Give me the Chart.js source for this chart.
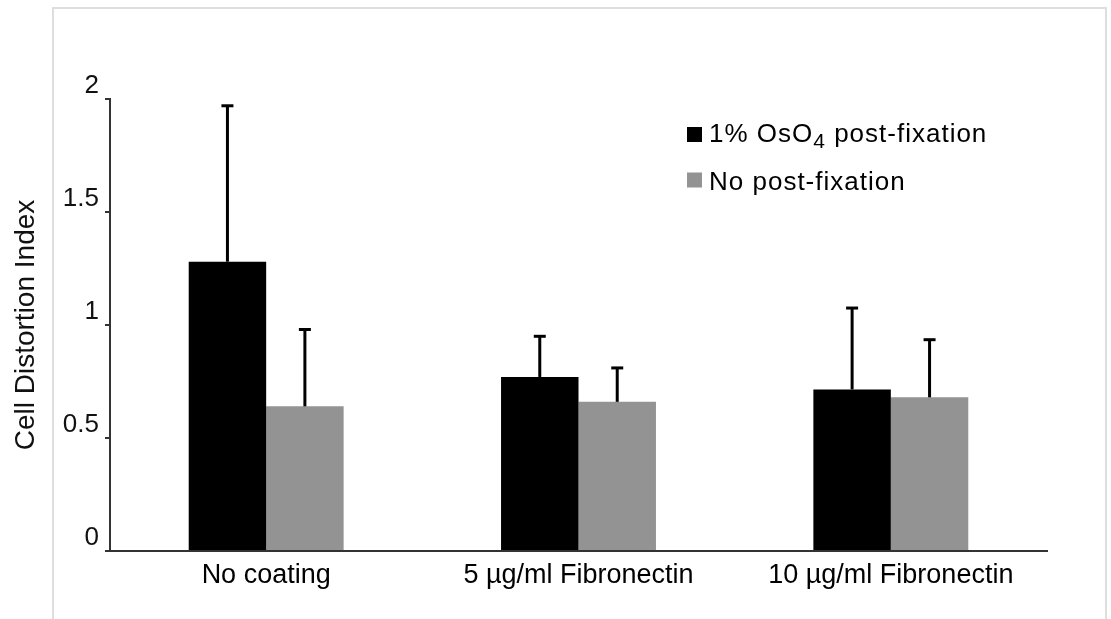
<!DOCTYPE html>
<html>
<head>
<meta charset="utf-8">
<script src="https://cdn.jsdelivr.net/npm/chart.js@4.4.0/dist/chart.umd.min.js"></script>
<style>
html, body { margin: 0; padding: 0; background: #fff; }
#wrap { position: relative; width: 1111px; height: 619px; overflow: hidden; }
#frame { position: absolute; left: 52px; top: 7px; width: 1051px; height: 700px; border: 2px solid #dedede; }
canvas { position: absolute; left: 0; top: 0; }
</style>
</head>
<body>
<div id="wrap"><div id="frame"></div><canvas id="chart" width="1111" height="619"></canvas></div>
<script>
// chart data
var categories = ['No coating', '5 µg/ml Fibronectin', '10 µg/ml Fibronectin'];
var seriesLabels = ['1% OsO4 post-fixation', 'No post-fixation'];
var osmiumValues = [1.28, 0.77, 0.715];
var osmiumErrors = [0.69, 0.18, 0.36];
var noFixValues = [0.64, 0.66, 0.68];
var noFixErrors = [0.34, 0.15, 0.255];
var yTickValues = [0, 0.5, 1, 1.5, 2];

var FONT = '"Liberation Sans", Arial, sans-serif';

// upper error bars, taken from each dataset's errors array
var errorBarPlugin = {
	id : 'errorBars',
	afterDatasetsDraw : function(chart) {
		var ctx = chart.ctx;
		var y = chart.scales.y;
		chart.data.datasets.forEach(function(ds, i) {
			var meta = chart.getDatasetMeta(i);
			meta.data.forEach(function(bar, j) {
				var top = y.getPixelForValue(ds.data[j] + ds.errors[j]);
				ctx.save();
				ctx.strokeStyle = '#000';
				ctx.lineWidth = 3;
				ctx.beginPath();
				ctx.moveTo(bar.x, bar.y);
				ctx.lineTo(bar.x, top);
				ctx.stroke();
				ctx.beginPath();
				ctx.moveTo(bar.x - 6, top);
				ctx.lineTo(bar.x + 6, top);
				ctx.stroke();
				ctx.restore();
			});
		});
	}
};

// legend inside the plot, with the subscript in OsO4
var legendPlugin = {
	id : 'innerLegend',
	afterDraw : function(chart) {
		var ctx = chart.ctx;
		var rows = [ { box : 127, base : 141.5 }, { box : 172.5, base : 190 } ];
		chart.data.datasets.forEach(function(ds, i) {
			var r = rows[i];
			ctx.save();
			ctx.fillStyle = ds.backgroundColor;
			ctx.fillRect(687, r.box, 15, 15);
			ctx.fillStyle = '#000';
			ctx.textBaseline = 'alphabetic';
			ctx.letterSpacing = '1px';
			var x = 709;
			var parts = ds.label.split(/(?<=OsO)(4)/);
			parts.forEach(function(p, k) {
				if (k % 2 == 1) {
					ctx.font = '21px ' + FONT;
					ctx.fillText(p, x, r.base + 6);
				} else {
					ctx.font = '26px ' + FONT;
					ctx.fillText(p, x, r.base);
				}
				x += ctx.measureText(p).width;
			});
			ctx.restore();
		});
	}
};

var data = {
	labels : categories,
	datasets : [ {
		label : seriesLabels[0],
		data : osmiumValues,
		errors : osmiumErrors,
		backgroundColor : '#000000'
	}, {
		label : seriesLabels[1],
		data : noFixValues,
		errors : noFixErrors,
		backgroundColor : '#939393'
	} ]
};

var options = {
	responsive : false,
	animation : false,
	devicePixelRatio : 1,
	layout : {
		padding : { top : 99, right : 64, left : 0, bottom : 0 }
	},
	datasets : {
		bar : { categoryPercentage : 0.496, barPercentage : 1.0 }
	},
	plugins : {
		legend : { display : false },
		tooltip : { enabled : false }
	},
	scales : {
		x : {
			grid : { display : false },
			border : { display : true, color : '#333', width : 2 },
			ticks : {
				color : '#000',
				padding : 0,
				maxRotation : 0,
				font : { family : FONT, size : 27 }
			},
			afterFit : function(scale) { scale.height = 68; }
		},
		y : {
			min : 0,
			max : 2,
			afterBuildTicks : function(scale) {
				scale.ticks = yTickValues.map(function(v) { return { value : v }; });
			},
			grid : {
				drawOnChartArea : false,
				drawTicks : true,
				tickLength : 5,
				color : '#333',
				lineWidth : 2
			},
			border : { display : true, color : '#333', width : 2 },
			ticks : {
				color : '#111',
				padding : 6,
				labelOffset : -13,
				font : { family : FONT, size : 26 },
				callback : function(v) { return String(v); }
			},
			title : {
				display : true,
				text : 'Cell Distortion Index',
				color : '#111',
				padding : { top : 9, bottom : 0 },
				font : { family : FONT, size : 28 }
			},
			afterFit : function(scale) { scale.width = 110; }
		}
	}
};

var chart = new Chart(document.getElementById('chart'), {
	type : 'bar',
	data : data,
	options : options,
	plugins : [ errorBarPlugin, legendPlugin ]
});
</script>
</body>
</html>
